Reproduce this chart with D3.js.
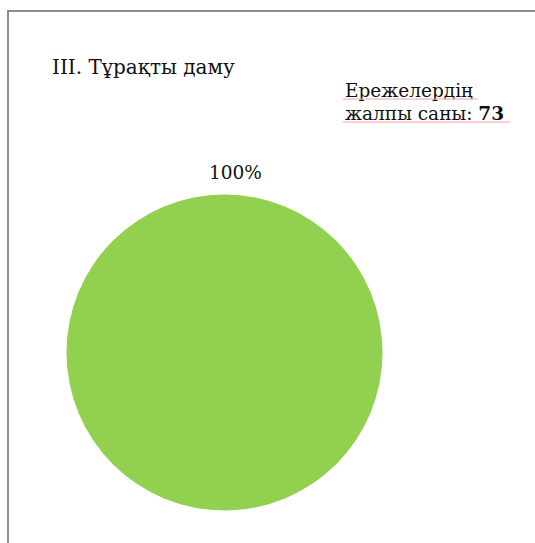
<!DOCTYPE html>
<html><head><meta charset="utf-8">
<script src="https://cdn.jsdelivr.net/npm/d3@7"></script>
<style>body{margin:0;background:#fff}svg{display:block}</style>
</head><body>
<script>
const categories = ["Тұрақты даму"];
const values = [73];
const percentLabels = ["100%"];
const title = "III. Тұрақты даму";
const totalLine1 = "Ережелердің";
const totalLine2 = "жалпы саны: ";
const totalValue = "73";

const W = 535, H = 543;
const svg = d3.select("body").append("svg").attr("width", W).attr("height", H);

// frame
svg.append("path").attr("d", `M8,${H} L8,11 L${W},11`)
  .attr("fill", "none").attr("stroke", "#8c8c8c").attr("stroke-width", 2);

const font = "'DejaVu Serif', 'Liberation Serif', serif";

svg.append("text").attr("x", 52).attr("y", 74)
  .attr("font-family", font).attr("font-size", 20).attr("fill", "#111").text(title);

const t1 = svg.append("text").attr("x", 345).attr("y", 97)
  .attr("font-family", font).attr("font-size", 18.5).attr("fill", "#111").text(totalLine1);
const t2 = svg.append("text").attr("x", 345).attr("y", 120)
  .attr("font-family", font).attr("font-size", 18.5).attr("fill", "#111");
t2.append("tspan").text(totalLine2);
t2.append("tspan").attr("font-weight", "bold").text(totalValue);

// spell-check style underlines
svg.append("line").attr("x1", 343).attr("x2", 478).attr("y1", 99).attr("y2", 99)
  .attr("stroke", "#f4a0a0").attr("stroke-width", 1);
svg.append("line").attr("x1", 343).attr("x2", 510).attr("y1", 122).attr("y2", 122)
  .attr("stroke", "#f4a0a0").attr("stroke-width", 1);

const cx = 224.5, cy = 352.5, r = 158;
const pie = d3.pie().sort(null)(values);
const arc = d3.arc().innerRadius(0).outerRadius(r);
const color = d3.scaleOrdinal().domain(categories).range(["#92d050"]);
const g = svg.append("g").attr("transform", `translate(${cx},${cy})`);
g.selectAll("path").data(pie).join("path")
  .attr("d", arc).attr("fill", (d, i) => color(categories[i]));

g.selectAll("text.lbl").data(pie).join("text").attr("class", "lbl")
  .attr("x", 11).attr("y", -r - 16)
  .attr("text-anchor", "middle")
  .attr("font-family", font).attr("font-size", 18.5).attr("fill", "#111")
  .text((d, i) => percentLabels[i]);
</script>
</body></html>
